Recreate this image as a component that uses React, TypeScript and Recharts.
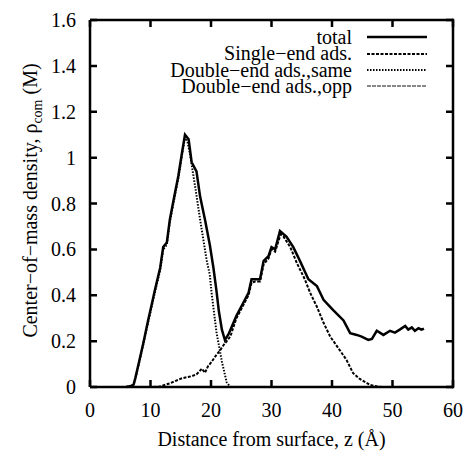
import React from 'react';
import { LineChart, Line, XAxis, YAxis } from 'recharts';

// distance from surface z (Å) and centre-of-mass density (M)
const totalZ = [6, 6.8, 7.2, 7.5, 8.2, 8.8, 9.6, 10.2, 10.7, 11.6, 12.1, 12.7, 13.2, 14, 14.6, 15.2, 15.7, 16.3, 16.8, 17.6, 18.2, 19, 19.8, 20.4, 20.9, 21.3, 21.8, 22.3, 22.9, 24.2, 25.3, 26.2, 26.7, 27.3, 28.1, 28.7, 29.5, 30, 30.6, 31.4, 32.5, 33.6, 34.7, 36.1, 37.5, 38.6, 40.2, 41.9, 43, 44.1, 44.9, 46, 46.6, 47.4, 48.5, 49.6, 50.4, 51.2, 52.1, 52.6, 53.2, 53.7, 54.3, 54.8, 55.2];
const totalRho = [0, 0.005, 0.01, 0.04, 0.12, 0.19, 0.29, 0.36, 0.42, 0.52, 0.61, 0.63, 0.73, 0.84, 0.92, 1.02, 1.1, 1.08, 0.98, 0.94, 0.83, 0.73, 0.62, 0.52, 0.42, 0.33, 0.25, 0.205, 0.23, 0.31, 0.365, 0.41, 0.47, 0.47, 0.47, 0.55, 0.57, 0.61, 0.6, 0.68, 0.655, 0.61, 0.55, 0.47, 0.44, 0.38, 0.335, 0.29, 0.235, 0.227, 0.22, 0.205, 0.21, 0.245, 0.227, 0.245, 0.237, 0.25, 0.266, 0.25, 0.26, 0.245, 0.256, 0.25, 0.255];

const singleZ = [10.5, 11.5, 13.2, 15.2, 16.8, 17.6, 18.5, 19, 19.5, 20.1, 20.9, 21.5, 22, 22.6, 23.2, 24.2, 25.3, 26.2, 26.7, 27.3, 28.1, 28.7, 29.5, 30, 30.6, 31.5, 32, 33.1, 34.2, 35.5, 36.4, 37.5, 38.6, 39.7, 41.3, 42.4, 43.5, 44.6, 46.3, 47.5, 48.5];
const singleRho = [0, 0.002, 0.016, 0.038, 0.047, 0.055, 0.08, 0.062, 0.09, 0.11, 0.14, 0.16, 0.18, 0.2, 0.22, 0.3, 0.355, 0.4, 0.455, 0.46, 0.46, 0.535, 0.56, 0.6, 0.59, 0.665, 0.655, 0.61, 0.54, 0.47, 0.41, 0.35, 0.28, 0.22, 0.16, 0.118, 0.06, 0.035, 0.009, 0.002, 0];

const sameZ = [6, 7.2, 7.5, 8.2, 8.8, 9.6, 10.7, 11.6, 12.1, 12.7, 13.2, 14, 14.6, 15.2, 15.7, 16.1, 16.5, 17.4, 18.2, 19.3, 19.8, 20.1, 20.9, 21.8, 22.6, 23.2];
const sameRho = [0, 0.01, 0.035, 0.115, 0.185, 0.28, 0.41, 0.51, 0.6, 0.62, 0.72, 0.83, 0.91, 1.01, 1.09, 1.07, 1.02, 0.87, 0.73, 0.55, 0.49, 0.41, 0.24, 0.11, 0.02, 0];

const oppZ = [6, 20, 40, 55];
const oppRho = [0, 0, 0, 0];

const xTicks = [0, 10, 20, 30, 40, 50, 60];
const yTicks = [0, 0.2, 0.4, 0.6, 0.8, 1, 1.2, 1.4, 1.6];

const seriesNames = ['total', 'Single\u2212end ads.', 'Double\u2212end ads.,same', 'Double\u2212end ads.,opp'];

const FONT = '"Liberation Serif", "Times New Roman", serif';
const INK = 'black';

const W = 464;
const H = 456;
const X_AXIS_H = 69;
const Y_AXIS_W = 90;
const PLOT_W = W - 11 - Y_AXIS_W;
const PLOT_H = H - 20 - X_AXIS_H;
const GAP = 8; // default tickSize (6) + tickMargin (2)
const TICK = 7;

const toRows = (zs: number[], rhos: number[]) => zs.map((z, i) => ({ z, rho: rhos[i] }));

const styles = [
  { stroke: INK, strokeWidth: 2.5, dash: undefined },
  { stroke: INK, strokeWidth: 2, dash: '3 1.5' },
  { stroke: INK, strokeWidth: 2, dash: '1.5 1.5' },
  { stroke: '#888', strokeWidth: 2, dash: '4 1' },
];

// ticks point into the plot on all four sides, labels sit outside;
// the first tick of each axis also closes the box on the opposite side
const bottomTick = (props: any) => {
  const { x, y, payload } = props;
  const axisY = y - GAP;
  const topY = axisY - PLOT_H;
  return (
    <g>
      <path d={`M${x},${axisY}V${axisY - TICK}M${x},${topY}V${topY + TICK}`} stroke={INK} strokeWidth={2.5} fill="none" />
      {payload.value === xTicks[0] && <path d={`M${x},${topY}H${x + PLOT_W}`} stroke={INK} strokeWidth={2.5} fill="none" />}
      <text x={x} y={axisY + 30} textAnchor="middle" fontFamily={FONT} fontSize={20} fill={INK}>{payload.value}</text>
    </g>
  );
};

const leftTick = (props: any) => {
  const { x, y, payload } = props;
  const axisX = x + GAP;
  const rightX = axisX + PLOT_W;
  return (
    <g>
      <path d={`M${axisX},${y}H${axisX + TICK}M${rightX},${y}H${rightX - TICK}`} stroke={INK} strokeWidth={2.5} fill="none" />
      {payload.value === yTicks[0] && <path d={`M${rightX},${y + 1.25}V${y - PLOT_H - 1.25}`} stroke={INK} strokeWidth={2.5} fill="none" />}
      <text x={axisX - 14} y={y + 7} textAnchor="end" fontFamily={FONT} fontSize={20} fill={INK}>{payload.value}</text>
    </g>
  );
};

// axis titles drawn on an overlay
const Titles = () => {
  const cx = 37;
  const cy = 20 + PLOT_H / 2 - 3;
  return (
    <svg width={W} height={H} style={{ position: 'absolute', left: 0, top: 0, pointerEvents: 'none' }}>
      <text x={cx} y={cy} transform={`rotate(-90 ${cx} ${cy})`} textAnchor="middle" fontFamily={FONT} fontSize={20} fill={INK}>
        Center{'\u2212'}of{'\u2212'}mass density, {'\u03c1'}
        <tspan dy={5} fontSize={14}>com</tspan>
        <tspan dy={-5}> (M)</tspan>
      </text>
      <text x={Y_AXIS_W + PLOT_W / 2} y={446} textAnchor="middle" fontFamily={FONT} fontSize={20} fill={INK}>
        Distance from surface, z ({'\u00c5'})
      </text>
    </svg>
  );
};

const LegendBox = () => (
  <div style={{ position: 'absolute', left: 130, top: 29, width: 300, fontFamily: FONT, fontSize: 20, color: INK }}>
    {seriesNames.map((name, i) => (
      <div key={name} style={{ display: 'flex', justifyContent: 'flex-end', alignItems: 'center', height: 16.4, lineHeight: '16.4px', whiteSpace: 'nowrap' }}>
        <span>{name}</span>
        <svg width={60} height={8} style={{ marginLeft: 15, marginRight: 3 }}>
          <line x1={0} x2={60} y1={4} y2={4} stroke={styles[i].stroke} strokeWidth={styles[i].strokeWidth} strokeDasharray={styles[i].dash} />
        </svg>
      </div>
    ))}
  </div>
);

const App = () => {
  return (
    <div style={{ position: 'absolute', left: 0, top: 0, width: W, height: H }}>
      <LineChart width={W} height={H} margin={{ top: 20, right: 11, bottom: 0, left: 0 }}>
        <XAxis dataKey="z" type="number" domain={[0, 60]} ticks={xTicks} height={X_AXIS_H} tickLine={false}
          tick={bottomTick} axisLine={{ stroke: INK, strokeWidth: 2.5 }} />
        <YAxis type="number" domain={[0, 1.6]} ticks={yTicks} width={Y_AXIS_W} tickLine={false}
          tick={leftTick} axisLine={{ stroke: INK, strokeWidth: 2.5 }} />
        <Line data={toRows(oppZ, oppRho)} dataKey="rho" type="linear" dot={false} stroke={styles[3].stroke}
          strokeWidth={styles[3].strokeWidth} strokeDasharray={styles[3].dash} isAnimationActive={false} />
        <Line data={toRows(singleZ, singleRho)} dataKey="rho" type="linear" dot={false} stroke={styles[1].stroke}
          strokeWidth={styles[1].strokeWidth} strokeDasharray={styles[1].dash} isAnimationActive={false} />
        <Line data={toRows(sameZ, sameRho)} dataKey="rho" type="linear" dot={false} stroke={styles[2].stroke}
          strokeWidth={styles[2].strokeWidth} strokeDasharray={styles[2].dash} isAnimationActive={false} />
        <Line data={toRows(totalZ, totalRho)} dataKey="rho" type="linear" dot={false} stroke={styles[0].stroke}
          strokeWidth={styles[0].strokeWidth} isAnimationActive={false} />
      </LineChart>
      <Titles />
      <LegendBox />
    </div>
  );
};

export default App;
